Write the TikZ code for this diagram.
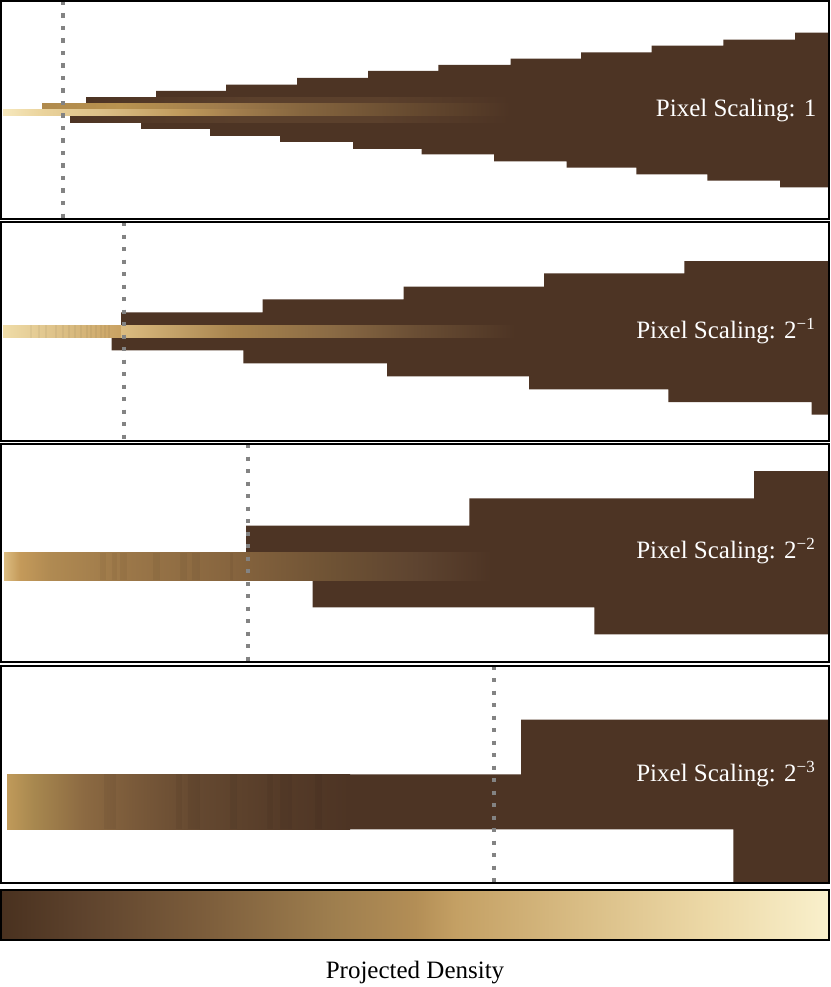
\documentclass[tikz,border=0pt]{standalone}
\usepackage{fontspec}
\setmainfont{Liberation Serif}
\definecolor{dk}{HTML}{4D3424}
\definecolor{gray50}{HTML}{838383}
\definecolor{sb}{HTML}{5B402C}
% panel 1
\definecolor{a1}{HTML}{F6E8BD}\definecolor{a2}{HTML}{EAD39C}\definecolor{a3}{HTML}{DCC088}
\definecolor{a4}{HTML}{C09A5C}\definecolor{a5}{HTML}{A07C4C}\definecolor{a6}{HTML}{86663F}
\definecolor{a7}{HTML}{65492F}
\definecolor{b1}{HTML}{B08A4C}\definecolor{b2}{HTML}{B8924F}
% panel 2
\definecolor{p2a}{HTML}{EFDCA8}\definecolor{p2b}{HTML}{C9A262}
\definecolor{c1}{HTML}{DCBC80}\definecolor{c2}{HTML}{A8844E}\definecolor{c3}{HTML}{8A6A44}
\definecolor{c4}{HTML}{6A4E34}
% panel 3
\definecolor{d1}{HTML}{DCBC80}\definecolor{d2}{HTML}{C49A5A}\definecolor{d3}{HTML}{B08A52}
\definecolor{d4}{HTML}{9A7648}\definecolor{d5}{HTML}{86643E}\definecolor{d6}{HTML}{6E5234}
\definecolor{d7}{HTML}{5E4430}
% panel 4
\definecolor{e1}{HTML}{C09A5A}\definecolor{e2}{HTML}{A8884F}\definecolor{e3}{HTML}{8C6A42}
\definecolor{e4}{HTML}{7A5A3A}\definecolor{e5}{HTML}{644830}\definecolor{e6}{HTML}{553B28}
% colorbar
\definecolor{f0}{HTML}{49311F}\definecolor{f1}{HTML}{5E432D}\definecolor{f2}{HTML}{7D5E3C}
\definecolor{f3}{HTML}{9E7E4E}\definecolor{f4}{HTML}{B38E56}\definecolor{f5}{HTML}{C4A064}
\definecolor{f6}{HTML}{D9BD85}\definecolor{f7}{HTML}{ECD8A6}\definecolor{f8}{HTML}{F9F0CC}

\pgfdeclarehorizontalshading{pOneLow}{100bp}{color(0bp)=(a1); color(25bp)=(a1); color(28.85bp)=(a2); color(34.57bp)=(a3); color(42.46bp)=(a4); color(48.37bp)=(a5); color(54.29bp)=(a6); color(65.63bp)=(a7); color(75bp)=(dk); color(100bp)=(dk)}
\pgfdeclarehorizontalshading{pOneUp}{100bp}{color(0bp)=(b1); color(25bp)=(b1); color(33.33bp)=(b2); color(44.02bp)=(a5); color(52.56bp)=(a6); color(64.85bp)=(a7); color(75bp)=(dk); color(100bp)=(dk)}
\pgfdeclarehorizontalshading{pOneSide}{100bp}{color(0bp)=(dk); color(25bp)=(dk); color(45bp)=(sb); color(60bp)=(sb); color(75bp)=(dk); color(100bp)=(dk)}
\pgfdeclarehorizontalshading{pTwo}{100bp}{color(0bp)=(c1); color(25bp)=(c1); color(39.21bp)=(c2); color(51.9bp)=(c3); color(62.31bp)=(c4); color(75bp)=(dk); color(100bp)=(dk)}
\pgfdeclarehorizontalshading{pThree}{100bp}{color(0bp)=(d1); color(25bp)=(d1); color(26.64bp)=(d2); color(29.71bp)=(d3); color(38.22bp)=(d4); color(48.46bp)=(d5); color(58.71bp)=(d6); color(67.11bp)=(d7); color(75bp)=(dk); color(100bp)=(dk)}
\pgfdeclarehorizontalshading{pFour}{100bp}{color(0bp)=(e1); color(25bp)=(e1); color(28.79bp)=(e2); color(36.08bp)=(e3); color(43.37bp)=(e4); color(53.13bp)=(e5); color(65.23bp)=(e6); color(75bp)=(dk); color(100bp)=(dk)}
\pgfdeclarehorizontalshading{cbar}{100bp}{color(0bp)=(f0); color(25bp)=(f0); color(30bp)=(f1); color(37.5bp)=(f2); color(45bp)=(f3); color(50bp)=(f4); color(52.5bp)=(f5); color(60bp)=(f6); color(67.5bp)=(f7); color(75bp)=(f8); color(100bp)=(f8)}

\begin{document}
\begin{tikzpicture}[x=1pt,y=-1pt,
  frame/.style={draw=black,line width=2pt},
  dotline/.style={draw=gray50,line width=4.2pt,dash pattern=on 4.2pt off 8.3pt},
  lbl/.style={text=white,font=\fontsize{25}{30}\selectfont,inner sep=0pt,anchor=base east},
  mass/.style={fill=dk},
  streak/.style={fill=black,opacity=0.045}]
\useasboundingbox (0,0) rectangle (830,987);
\fill[white] (0,0) rectangle (830,987);

% ---------------- panel 1
\begin{scope}
\clip (1,1) rectangle (829,219);
\fill[mass] (3,110) -- (42,110) -- (42,104) -- (86,104) -- (86,97.3) -- (156,97.3) -- (156,91) -- (226,91) -- (226,84.7) -- (297,84.7) -- (297,78) -- (368,78) -- (368,71) -- (438.3,71) -- (438.3,65) -- (510.7,65) -- (510.7,58.7) -- (581,58.7) -- (581,52.3) -- (651.7,52.3) -- (651.7,45.7) -- (723.3,45.7) -- (723.3,39.7) -- (795,39.7) -- (795,32.7) -- (830,32.7) -- (830,187.3) -- (780,187.3) -- (780,180.7) -- (707.3,180.7) -- (707.3,174.3) -- (636.3,174.3) -- (636.3,167.7) -- (566.7,167.7) -- (566.7,161.3) -- (494,161.3) -- (494,154.3) -- (421.7,154.3) -- (421.7,149) -- (353,149) -- (353,142) -- (280,142) -- (280,136) -- (210,136) -- (210,129) -- (141,129) -- (141,122.7) -- (70,122.7) -- (70,116) -- (3,116) -- cycle;
\shade[shading=pOneSide] (86,97.3) rectangle (510,104);
\shade[shading=pOneSide] (70,116) rectangle (510,122.7);
\shade[shading=pOneUp] (42,104) rectangle (510,110);
\shade[shading=pOneLow] (3,110) rectangle (510,116);
\draw[dotline] (62.7,1) -- (62.7,219);
\end{scope}
\node[lbl] (t1) at (816.5,117) {Pixel Scaling: 1};
\draw[frame] (1,1) rectangle (829,219);

% ---------------- panel 2
\begin{scope}
\clip (1,222) rectangle (829,440.5);
\fill[mass] (3,325) -- (121,325) -- (121,312.3) -- (262.7,312.3) -- (262.7,299.3) -- (403.7,299.3) -- (403.7,286.7) -- (544,286.7) -- (544,273.3) -- (684.3,273.3) -- (684.3,261) -- (830,261) -- (830,414.7) -- (811.7,414.7) -- (811.7,402) -- (668.3,402) -- (668.3,389.3) -- (529,389.3) -- (529,376.3) -- (387,376.3) -- (387,363.3) -- (243.3,363.3) -- (243.3,350.3) -- (111.7,350.3) -- (111.7,337.7) -- (3,337.7) -- cycle;
\shade[left color=p2a, right color=p2b] (3,325) rectangle (121,337.7);
\foreach \a in {30,38,45,55,62,68,74,80,86,90,95,100,104,108}
  \fill[streak] (\a,325) rectangle (\a+1.5,337.7);
\shade[shading=pTwo] (121,325) rectangle (515,337.7);
\draw[dotline] (124.3,222) -- (124.3,440.5);
\end{scope}
\node[lbl] (t2) at (815,338.3) {Pixel Scaling: 2\raisebox{8.5pt}{\fontsize{17}{17}\selectfont −1}};
\draw[frame] (1,222) rectangle (829,440.5);

% ---------------- panel 3
\begin{scope}
\clip (1,444) rectangle (829,661.5);
\fill[mass] (4,552.7) -- (246,552.7) -- (246,525.7) -- (469.3,525.7) -- (469.3,498.3) -- (754,498.3) -- (754,471) -- (830,471) -- (830,634.3) -- (594.3,634.3) -- (594.3,607.3) -- (312.7,607.3) -- (312.7,580) -- (4,580) -- cycle;
\shade[shading=pThree] (4,552.7) rectangle (492,580);
\foreach \a/\b in {100/106,112/117,120/127,153/160,180/187,192/200,230/233}
  \fill[streak] (\a,552.7) rectangle (\b,580);
\draw[dotline] (247.7,444) -- (247.7,661.5);
\end{scope}
\node[lbl] (t3) at (815,558.3) {Pixel Scaling: 2\raisebox{8.5pt}{\fontsize{17}{17}\selectfont −2}};
\draw[frame] (1,444) rectangle (829,661.5);

% ---------------- panel 4
\begin{scope}
\clip (1,665.5) rectangle (829,883);
\fill[mass] (7,774.3) -- (521,774.3) -- (521,719.7) -- (830,719.7) -- (830,884) -- (733.3,884) -- (733.3,829.3) -- (7,829.3) -- cycle;
\shade[shading=pFour] (7,774.3) rectangle (350,829.3);
\foreach \a/\b in {104/116,176/182,188/200,230/237,267/273,280/292,315/322}
  \fill[streak] (\a,774.3) rectangle (\b,829.3);
\draw[dotline] (494.3,665.5) -- (494.3,883);
\end{scope}
\node[lbl] (t4) at (815,781) {Pixel Scaling: 2\raisebox{8.5pt}{\fontsize{17}{17}\selectfont −3}};
\draw[frame] (1,665.5) rectangle (829,883);

% ---------------- colour bar
\shade[shading=cbar] (1,890) rectangle (829,940);
\draw[frame] (1,890) rectangle (829,940);
\node[font=\fontsize{25}{30}\selectfont, anchor=base, inner sep=0pt] (cbl) at (415,978) {Projected Density};
\end{tikzpicture}
\end{document}
